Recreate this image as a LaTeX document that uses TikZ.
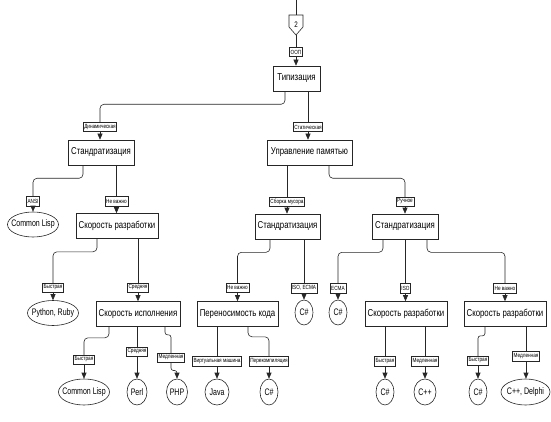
\documentclass[tikz,border=0pt]{standalone}
\usepackage{fontspec}
\setmainfont{Liberation Sans}
\newfontfamily\nar[FakeStretch=0.78]{Liberation Sans}
\newfontfamily\narr[FakeStretch=0.74]{Liberation Sans}
\usetikzlibrary{arrows.meta,shapes.geometric}
\begin{document}
\begin{tikzpicture}[x=1pt,y=-1pt,
 box/.style={draw=black!85, line width=0.6pt, rectangle, minimum height=25pt, inner sep=0pt, font=\nar\fontsize{10}{12}\selectfont},
 elli/.style={draw=black!85, line width=0.6pt, ellipse, inner xsep=-5pt, inner ysep=0pt, minimum height=25pt, font=\narr\fontsize{9.5}{11}\selectfont},
 lbl/.style={draw=black!85, line width=0.5pt, fill=white, inner xsep=1pt, inner ysep=0pt, minimum height=9.5pt, font=\nar\fontsize{6}{7}\selectfont},
 conn/.style={draw=black!85, line width=0.6pt, rounded corners=4pt},
 jog/.style={draw=black!85, line width=0.6pt, rounded corners=2.5pt},
 arr/.style={draw=black!85, line width=0.6pt, -{Triangle[length=6pt,width=5pt]}},
]
\useasboundingbox (0,0) rectangle (551,422);
% top connector
\coordinate (top) at (296,0);
\node[minimum width=14pt, minimum height=20pt, inner sep=0pt, font=\nar\fontsize{8}{9}\selectfont] (oc) at (296,25) {2};
\draw[draw=black!85, line width=0.6pt] (289,15) -- (303,15) -- (303,27) -- (296,35) -- (289,27) -- cycle;

% boxes
\node[box, minimum width=47pt] (tip) at (296.5,78.5) {Типизация};
\node[box, minimum width=66pt] (std1) at (101,152.5) {Стандратизация};
\node[box, minimum width=85pt] (upr) at (309.5,152.5) {Управление памятью};
\node[box, minimum width=82pt] (sr1) at (117,226) {Скорость разработки};
\node[box, minimum width=65pt] (std2) at (287.5,226.5) {Стандратизация};
\node[box, minimum width=66pt] (std3) at (405,226.5) {Стандратизация};
\node[box, minimum width=84pt] (si) at (138,314) {Скорость исполнения};
\node[box, minimum width=81pt] (pk) at (237.5,314) {Переносимость кода};
\node[box, minimum width=82pt] (sr2) at (406,314) {Скорость разработки};
\node[box, minimum width=82pt] (sr3) at (505,314) {Скорость разработки};

% ellipses
\node[elli, minimum width=51pt] (cl1) at (33,224.5) {Common Lisp};
\node[elli, minimum width=51pt] (pr) at (53,313) {Python, Ruby};
\node[elli, minimum width=18pt] (cs1) at (304,312.5) {C\#};
\node[elli, minimum width=18pt] (cs2) at (338,312.5) {C\#};
\node[elli, minimum width=51pt, minimum height=26pt] (cl2) at (84,392) {Common Lisp};
\node[elli, minimum width=20pt, minimum height=26pt] (perl) at (137,392) {Perl};
\node[elli, minimum width=21pt, minimum height=26pt] (php) at (177,392) {PHP};
\node[elli, minimum width=24pt, minimum height=26pt] (java) at (217,392) {Java};
\node[elli, minimum width=18pt, minimum height=26pt] (cs3) at (269,392) {C\#};
\node[elli, minimum width=18pt, minimum height=26pt] (cs4) at (385,392) {C\#};
\node[elli, minimum width=22pt, minimum height=26pt] (cpp) at (425,392) {C++};
\node[elli, minimum width=18pt, minimum height=26pt] (cs5) at (478,392) {C\#};
\node[elli, minimum width=49pt, minimum height=26pt] (cppd) at (525.5,392) {C++, Delphi};

% connectors (drawn before labels)
\draw[conn] (top) -- (oc.north);
\draw[conn] (oc.south) -- (296,52);
\draw[conn] ([xshift=-11.5pt]tip.south) -- ++(0,13) -| (100,127);
\draw[conn] (308,91) -- (308,127);
\draw[conn] ([xshift=-18pt]std1.south) -- ++(0,13) -| (33,201);
\draw[conn] (116.5,165) -- (116.5,201);
\draw[conn] (287,165) -- (287,201);
\draw[conn] ([xshift=19.5pt]upr.south) -- ++(0,13) -| (405,201);
\draw[conn] ([xshift=-20pt]sr1.south) -- ++(0,13) -| (53,287);
\draw[conn] (138,239) -- (138,287);
\draw[conn] ([xshift=-17.5pt]std2.south) -- ++(0,13) -| (237.5,287);
\draw[conn] (304,239) -- (304,287);
\draw[conn] ([xshift=-22pt]std3.south) -- ++(0,13) -| (338,287);
\draw[conn] (405.5,239) -- (405.5,287);
\draw[conn] ([xshift=22pt]std3.south) -- ++(0,13) -| (505,287);
\draw[conn] ([xshift=-29pt]si.south) -- ++(0,11) -| (84,359);
\draw[conn] (137,327) -- (137,351);
\draw[jog] ([xshift=27pt]si.south) -- ++(0,8) -| (171,357);
\draw[conn] (217,327) -- (217,361);
\draw[conn] ([xshift=10.5pt]pk.south) -- ++(0,10) -| (269,361);
\draw[conn] (385,327) -- (385,361);
\draw[conn] (425,327) -- (425,361);
\draw[jog] ([xshift=-20pt]sr3.south) -- ++(0,9) -| (478,360);
\draw[conn] (526,327) -- (526,356);

% labels
\node[lbl] (loop) at (296,52) {ООП};
\node[lbl] (l1) at (100,127) {Динамическая};
\node[lbl] (l2) at (308,127) {Статическая};
\node[lbl] (l3) at (33,201) {ANSI};
\node[lbl] (l4) at (116.5,201) {Не важно};
\node[lbl] (l5) at (287,201.5) {Сборка мусора};
\node[lbl] (l6) at (405,201.5) {Ручное};
\node[lbl] (l7) at (53,287.5) {Быстрая};
\node[lbl] (l8) at (138,287.5) {Средняя};
\node[lbl] (l9) at (237.5,287.5) {Не важно};
\node[lbl] (l10) at (304,288) {ISO, ECMA};
\node[lbl] (l11) at (338,288) {ECMA};
\node[lbl] (l12) at (405.5,288) {ISO};
\node[lbl] (l13) at (505,288) {Не важно};
\node[lbl] (l14) at (84,359.5) {Быстрая};
\node[lbl] (l15) at (137,351.5) {Средняя};
\node[lbl] (l16) at (171,357.5) {Медленная};
\node[lbl] (l17) at (217,361) {Виртуальная машина};
\node[lbl] (l18) at (269,361) {Перекомпиляция};
\node[lbl] (l19) at (385,361) {Быстрая};
\node[lbl] (l20) at (425,361) {Медленная};
\node[lbl] (l21) at (478,360.5) {Быстрая};
\node[lbl] (l22) at (526,356) {Медленная};

% arrows from labels to targets
\draw[arr] (loop.south) -- (loop.south |- tip.north);
\draw[arr] (l1.south) -- (l1.south |- std1.north);
\draw[arr] (l2.south) -- (l2.south |- upr.north);
\draw[arr] (l3.south) -- (l3.south |- cl1.north);
\draw[arr] (l4.south) -- (l4.south |- sr1.north);
\draw[arr] (l5.south) -- (l5.south |- std2.north);
\draw[arr] (l6.south) -- (l6.south |- std3.north);
\draw[arr] (l7.south) -- (l7.south |- pr.north);
\draw[arr] (l8.south) -- (l8.south |- si.north);
\draw[arr] (l9.south) -- (l9.south |- pk.north);
\draw[arr] (l10.south) -- (l10.south |- cs1.north);
\draw[arr] (l11.south) -- (l11.south |- cs2.north);
\draw[arr] (l12.south) -- (l12.south |- sr2.north);
\draw[arr] (l13.south) -- (l13.south |- sr3.north);
\draw[arr] (l14.south) -- (l14.south |- cl2.north);
\draw[arr] (l15.south) -- (l15.south |- perl.north);
\draw[arr, rounded corners=2.5pt] (l16.south) -- ++(0,8) -| (php.north);
\draw[arr] (l17.south) -- (l17.south |- java.north);
\draw[arr] (l18.south) -- (l18.south |- cs3.north);
\draw[arr] (l19.south) -- (l19.south |- cs4.north);
\draw[arr] (l20.south) -- (l20.south |- cpp.north);
\draw[arr] (l21.south) -- (l21.south |- cs5.north);
\draw[arr] (l22.south) -- (l22.south |- cppd.north);
\end{tikzpicture}
\end{document}
